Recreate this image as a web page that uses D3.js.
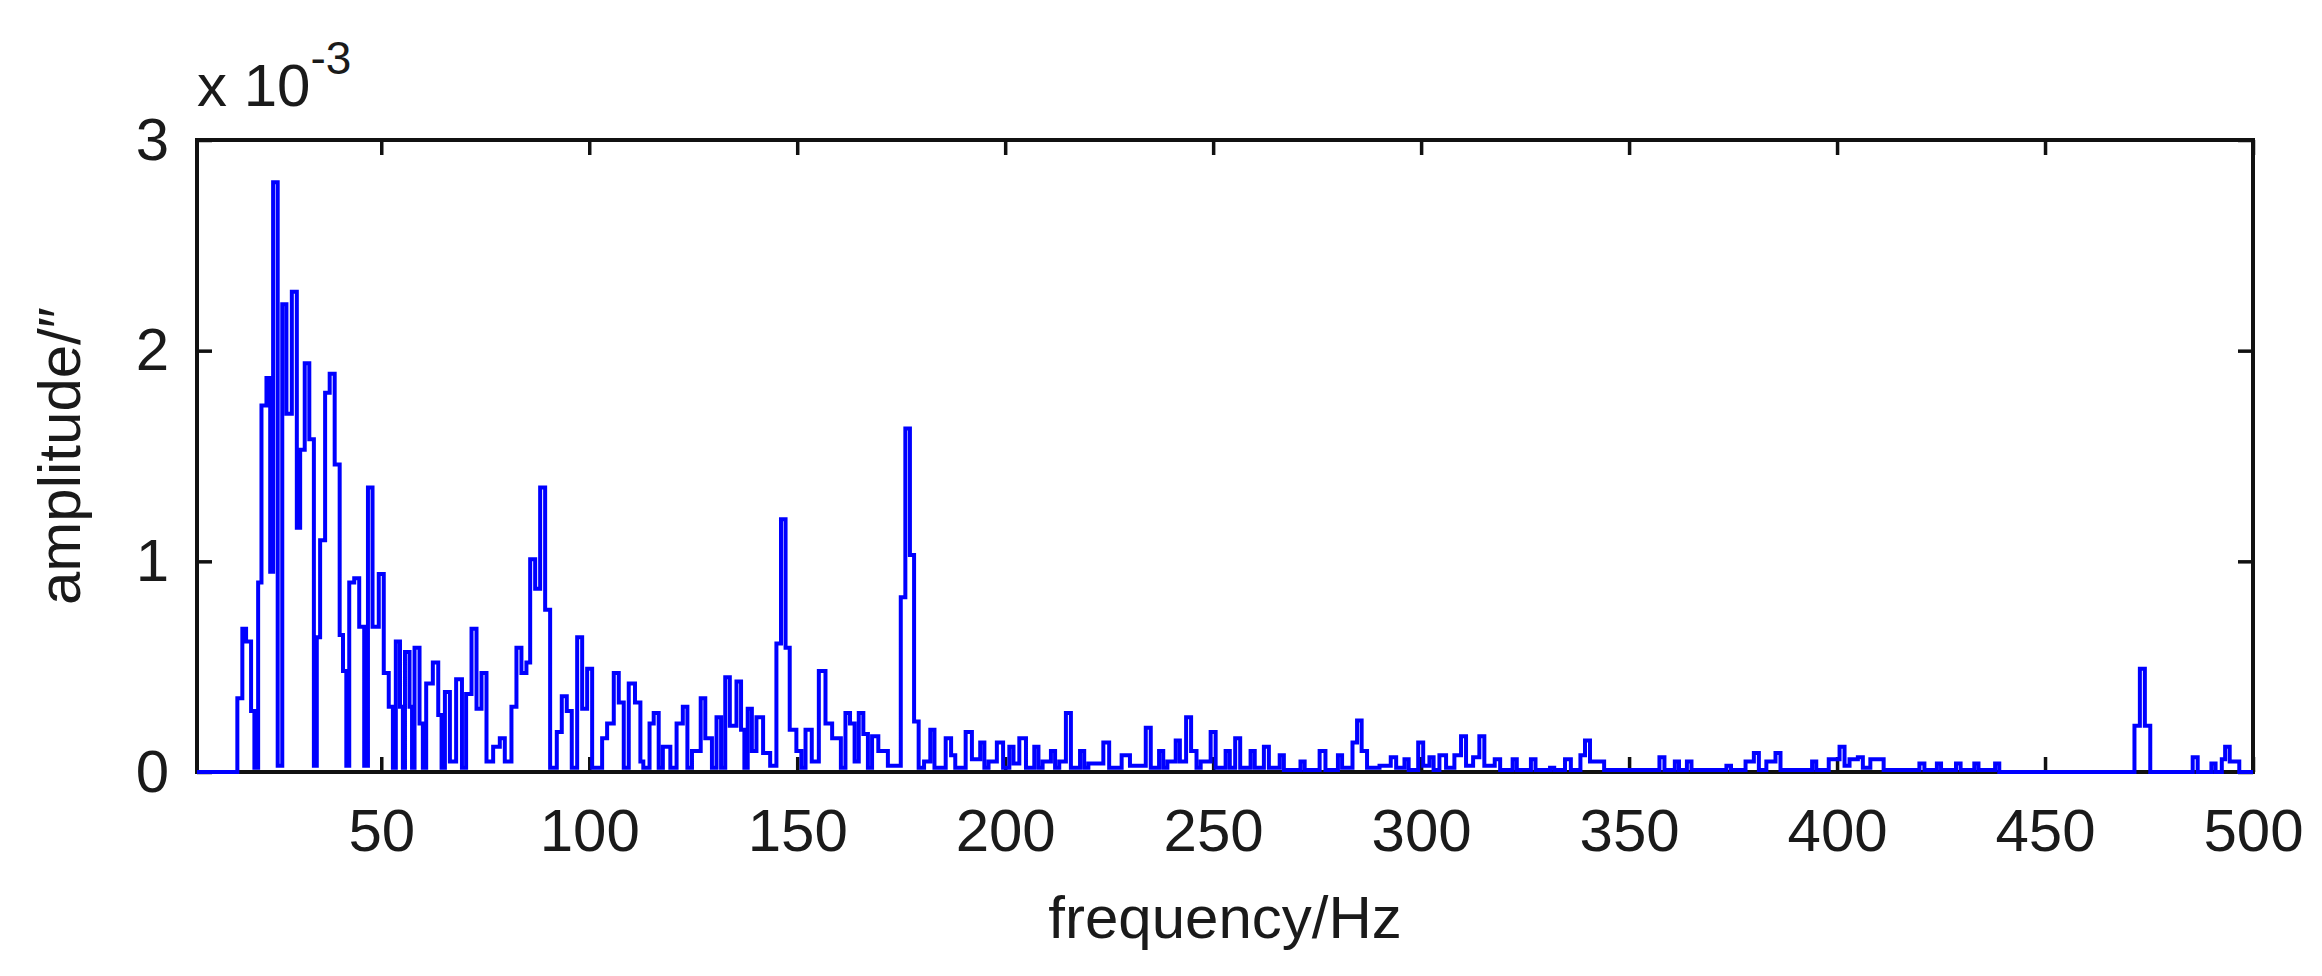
<!DOCTYPE html>
<html><head><meta charset="utf-8">
<script src="https://cdn.jsdelivr.net/npm/d3@7"></script>
<style>body{margin:0;background:#fff}svg{display:block}text{font-family:"Liberation Sans",Arial,sans-serif;fill:#1a1a1a}</style>
</head><body><svg id="c" width="2322" height="976"></svg>
<script>
const xTicks=[50,100,150,200,250,300,350,400,450,500];
const yTicks=[0,1,2,3];
// [step-start frequency (Hz), amplitude (x1e-3)]
const spectrum=[[5.7,0],[15.4,.35],[16.6,.68],[17.5,.62],[18.7,.29],[19.5,.02],[20.4,.9],[21.2,1.74],[22.4,1.87],[23.3,.95],[24.0,2.8],[25.1,.03],[26.2,2.22],[27.2,1.7],[28.5,2.28],[29.7,1.16],[30.5,1.53],[31.6,1.94],[32.7,1.58],[33.8,.03],[34.5,.64],[35.3,1.1],[36.5,1.8],[37.6,1.89],[38.8,1.46],[40,.65],[40.8,.48],[41.6,.03],[42.3,.9],[43.5,.92],[44.7,.69],[45.9,.03],[46.8,1.35],[47.9,.69],[49.4,.94],[50.6,.47],[51.8,.31],[52.8,.02],[53.5,.62],[54.5,.31],[55.2,.02],[55.7,.57],[56.8,.31],[57.4,.02],[58,.59],[59.2,.23],[60,.02],[60.8,.42],[62.4,.52],[63.7,.27],[64.5,.02],[65.3,.38],[66.5,.05],[68,.44],[69.4,.02],[70.4,.37],[71.7,.68],[72.9,.3],[74.1,.47],[75.3,.05],[76.9,.12],[78.5,.16],[79.7,.05],[81.3,.31],[82.5,.59],[83.7,.47],[84.9,.52],[85.8,1.01],[87,.87],[88.2,1.35],[89.4,.77],[90.6,.02],[92.2,.19],[93.4,.36],[94.6,.29],[95.8,.02],[97.1,.64],[98.3,.3],[99.5,.49],[100.7,.02],[101.9,.02],[103.1,.16],[104.3,.23],[105.9,.47],[107.1,.33],[108.3,.02],[109.5,.42],[111,.33],[112.3,.05],[113,.02],[114.5,.23],[115.5,.28],[116.7,.02],[117.7,.12],[119.5,.02],[121,.23],[122.5,.31],[123.6,.02],[124.7,.1],[126.8,.35],[127.9,.16],[129.5,.02],[130.6,.26],[131.7,.02],[132.7,.45],[133.8,.22],[135.4,.43],[136.5,.2],[137.3,.02],[138.1,.3],[139.1,.1],[140.2,.26],[141.8,.09],[143.5,.03],[145,.61],[146.1,1.2],[147.2,.59],[148.2,.2],[149.8,.1],[151,.02],[152,.2],[153.5,.05],[155.2,.48],[156.8,.23],[158.4,.16],[160.5,.02],[161.6,.28],[162.7,.23],[163.8,.05],[164.8,.28],[165.9,.18],[167,.02],[168,.17],[169.5,.1],[171.8,.03],[174.9,.83],[176,1.63],[177.1,1.03],[178.1,.24],[179.2,.02],
[180.5,.05],[182,.2],[183,.02],[185.7,.16],[187,.08],[188,.02],[190.5,.19],[192,.06],[194,.14],[195,.02],[196,.05],[198,.14],[199.5,.02],[201,.12],[202,.04],[203.4,.16],[205,.02],[207,.12],[208,.02],[209,.05],[211,.1],[212,.02],[213,.05],[214.6,.28],[215.8,.02],[218,.1],[219,.02],[220,.04],[223.6,.14],[225,.02],[228,.08],[230,.03],[233.8,.21],[235,.02],[237,.1],[238,.02],[239,.05],[241,.15],[242,.05],[243.5,.26],[244.7,.1],[246,.02],[247,.05],[249.4,.19],[250.6,.02],[253,.1],[254,.02],[255.3,.16],[256.5,.02],[259,.1],[260,.02],[262.2,.12],[263.4,.02],[266,.08],[267,.01],[271,.05],[272,.01],[275.6,.1],[277,.01],[280,.08],[281,.02],[283.5,.14],[284.6,.245],[285.7,.1],[287,.02],[290,.03],[292.7,.07],[294,.02],[296,.06],[297,.01],[299.3,.14],[300.5,.03],[302,.07],[303,.01],[304.4,.08],[306,.02],[308,.08],[309.6,.17],[310.8,.03],[312.5,.07],[314,.17],[315.2,.03],[317.7,.06],[319,.01],[322,.06],[323,.01],[326.4,.06],[327.5,.01],[331,.02],[332,.01],[334.6,.06],[336,.01],[338.3,.08],[339.4,.15],[340.6,.05],[342.6,.05],[344,.01],[357.3,.07],[358.5,.01],[361,.05],[362,.01],[363.9,.05],[365,.01],[373.4,.03],[374.5,.01],[378,.05],[380,.09],[381.2,.01],[383,.05],[385.2,.09],[386.4,.01],[394,.05],[395,.01],[398,.06],[400.6,.12],[401.8,.03],[403,.06],[405,.07],[406.2,.02],[408,.06],[410,.06],[411.2,.01],[419.8,.04],[421,.01],[424,.04],[425,.01],[428.6,.04],[429.7,.01],[433,.04],[434,.01],[438,.04],[439,0],[471.5,.22],[472.8,.49],[474,.22],[475.3,0],[485.5,.07],[486.7,0],[490,.04],[491,0],[492.5,.06],[493.3,.12],[494.4,.05],[495.5,.05],[496.7,0],[500,0]];
const L=197,R=2253,T=140,B=772;
const x=d3.scaleLinear().domain([5.7,500]).range([L,R]);
const y=d3.scaleLinear().domain([0,3]).range([B,T]);
const svg=d3.select('#c');
const fs=60;
const ax=svg.append('g').attr('transform',`translate(0,${B})`).call(d3.axisBottom(x).tickValues(xTicks).tickSizeInner(-15).tickSizeOuter(0).tickPadding(28));
const ay=svg.append('g').attr('transform',`translate(${L},0)`).call(d3.axisLeft(y).tickValues(yTicks).tickFormat(d3.format('d')).tickSizeInner(-15).tickSizeOuter(0).tickPadding(28));
svg.append('g').attr('transform',`translate(0,${T})`).call(d3.axisTop(x).tickValues(xTicks).tickSizeInner(-15).tickSizeOuter(0).tickFormat(''));
svg.append('g').attr('transform',`translate(${R},0)`).call(d3.axisRight(y).tickValues(yTicks).tickSizeInner(-15).tickSizeOuter(0).tickFormat(''));
svg.selectAll('.domain').remove();
svg.selectAll('.tick line').attr('stroke','#111').attr('stroke-width',3.5);
svg.selectAll('.tick text').attr('font-size',fs).style('font-family','"Liberation Sans",Arial,sans-serif').attr('fill','#1a1a1a');
ax.selectAll('text').attr('dy','0.85em');
svg.append('rect').attr('x',L).attr('y',T).attr('width',R-L).attr('height',B-T).attr('fill','none').attr('stroke','#111').attr('stroke-width',4);
svg.append('path').datum(spectrum).attr('fill','none').attr('stroke','#0000ff').attr('stroke-width',4)
 .attr('d',d3.line().x(d=>x(d[0])).y(d=>y(d[1])).curve(d3.curveStepAfter));
svg.append('text').attr('x',(L+R)/2).attr('y',938).attr('text-anchor','middle').attr('font-size',fs).text('frequency/Hz');
svg.append('text').attr('transform',`translate(80,${(T+B)/2}) rotate(-90)`).attr('text-anchor','middle').attr('font-size',fs).text('amplitude/\u2033');
const m=svg.append('text').attr('x',197).attr('y',106).attr('font-size',fs);
m.append('tspan').text('x 10');
m.append('tspan').attr('dy',-32).attr('font-size',46).text('-3');
</script></body></html>
